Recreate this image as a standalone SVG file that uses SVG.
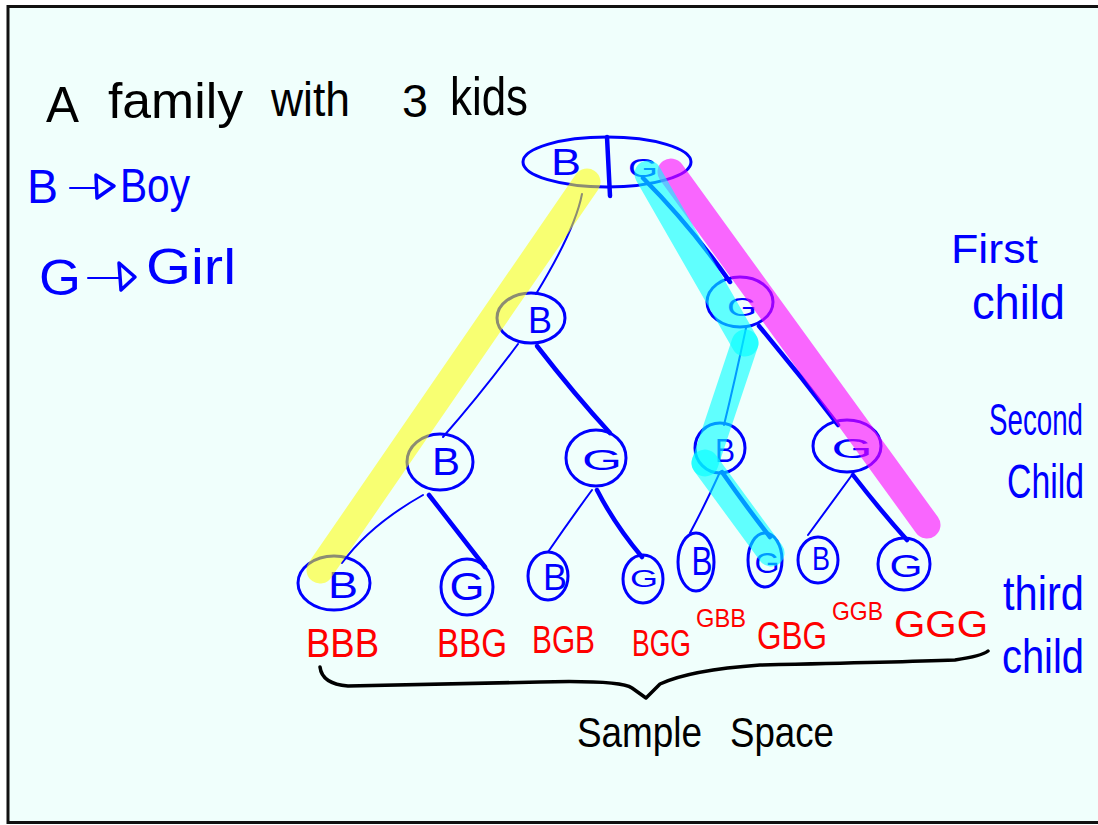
<svg xmlns="http://www.w3.org/2000/svg" width="1098" height="825" viewBox="0 0 1098 825">
  <style>
    .sheet { fill: #f0fffc; stroke: #111; stroke-width: 3; }
    .ink { font-family: "Liberation Sans", Arial, sans-serif; }
    .black { fill: #000; }
    .blue { fill: #0000ff; }
    .red { fill: #ff0000; }
    .ring { fill: none; stroke: #0000ff; stroke-width: 3; }
    .thin { fill: none; stroke: #0000ff; stroke-width: 2; stroke-linecap: round; }
    .thick { fill: none; stroke: #0000ff; stroke-width: 4.5; stroke-linecap: round; }
    .brace { fill: none; stroke: #000; stroke-width: 3.5; stroke-linecap: round; stroke-linejoin: round; }
    .hl { fill: none; stroke-width: 27; stroke-linecap: round; stroke-linejoin: round; }
    .yellow { stroke: #ffff00; opacity: 0.55; }
    .cyan { stroke: #00ffff; opacity: 0.6; }
    .magenta { stroke: #ff00ff; opacity: 0.6; }
  </style>

  <!-- page -->
  <rect x="0" y="0" width="1098" height="825" fill="#ffffff"/>
  <rect class="sheet" x="8" y="6.5" width="1200" height="816"/>

  <!-- heading -->
  <g id="title" class="ink black">
    <text x="46" y="122" font-size="50" textLength="33" lengthAdjust="spacingAndGlyphs">A</text>
    <text x="108" y="118" font-size="50" textLength="135" lengthAdjust="spacingAndGlyphs">family</text>
    <text x="271" y="116" font-size="48" textLength="79" lengthAdjust="spacingAndGlyphs">with</text>
    <text x="402" y="117" font-size="46" textLength="26" lengthAdjust="spacingAndGlyphs">3</text>
    <text x="450" y="115" font-size="54" textLength="78" lengthAdjust="spacingAndGlyphs">kids</text>
  </g>

  <!-- legend -->
  <g id="legend" class="ink blue">
    <text x="27" y="203" font-size="48" textLength="31" lengthAdjust="spacingAndGlyphs">B</text>
    <path class="thin" d="M70 188 H95" stroke-width="3"/>
    <path d="M96 175 L114 186 L97 198 Z" fill="none" stroke="#0000ff" stroke-width="3.5" stroke-linejoin="round"/>
    <text x="120" y="202" font-size="48" textLength="70" lengthAdjust="spacingAndGlyphs">Boy</text>
    <text x="39" y="295" font-size="50" textLength="42" lengthAdjust="spacingAndGlyphs">G</text>
    <path class="thin" d="M88 278 H119" stroke-width="3"/>
    <path d="M119 263 L135 277 L121 290 Z" fill="none" stroke="#0000ff" stroke-width="3.5" stroke-linejoin="round"/>
    <text x="146" y="284" font-size="50" textLength="90" lengthAdjust="spacingAndGlyphs">Girl</text>
  </g>

  <!-- level captions -->
  <g id="captions" class="ink blue">
    <text x="951" y="263" font-size="40" textLength="87" lengthAdjust="spacingAndGlyphs">First</text>
    <text x="972" y="319" font-size="48" textLength="93" lengthAdjust="spacingAndGlyphs">child</text>
    <text x="989" y="435" font-size="44" textLength="94" lengthAdjust="spacingAndGlyphs">Second</text>
    <text x="1007" y="498" font-size="48" textLength="77" lengthAdjust="spacingAndGlyphs">Child</text>
    <text x="1003" y="610" font-size="48" textLength="81" lengthAdjust="spacingAndGlyphs">third</text>
    <text x="1002" y="673" font-size="48" textLength="82" lengthAdjust="spacingAndGlyphs">child</text>
  </g>

  <!-- branches -->
  <g id="connectors">
    <path class="thin" d="M582 194 Q575 230 536 294"/>
    <path class="thick" d="M643 178 Q690 225 730 282"/>
    <path class="thin" d="M518 344 Q480 395 443 437"/>
    <path class="thick" d="M537 346 Q575 395 610 433"/>
    <path class="thin" d="M746 328 Q735 380 724 425"/>
    <path class="thick" d="M759 326 Q800 375 838 425"/>
    <path class="thin" d="M423 495 Q370 525 342 563"/>
    <path class="thick" d="M429 495 Q460 535 485 567"/>
    <path class="thin" d="M592 490 Q570 520 548 552"/>
    <path class="thick" d="M597 490 Q615 525 642 557"/>
    <path class="thin" d="M720 472 Q705 505 690 533"/>
    <path class="thick" d="M722 472 Q745 505 770 537"/>
    <path class="thin" d="M852 475 Q830 505 808 535"/>
    <path class="thick" d="M853 475 Q880 510 907 540"/>
  </g>

  <!-- tree nodes -->
  <g id="root" class="ink blue">
    <ellipse class="ring" cx="607" cy="162" rx="84" ry="25"/>
    <path class="thick" d="M607 137 L610 196" stroke-width="3.5"/>
    <text x="566" y="175" font-size="37" text-anchor="middle" textLength="30" lengthAdjust="spacingAndGlyphs">B</text>
    <text x="643" y="177" font-size="26" text-anchor="middle" textLength="30" lengthAdjust="spacingAndGlyphs">G</text>
  </g>
  <g id="n-B" class="ink blue">
    <ellipse class="ring" cx="531" cy="318" rx="34" ry="25"/>
    <text x="540" y="333" font-size="36" text-anchor="middle" textLength="24" lengthAdjust="spacingAndGlyphs">B</text>
  </g>
  <g id="n-G" class="ink blue">
    <ellipse class="ring" cx="740" cy="302" rx="33" ry="25"/>
    <text x="742" y="316" font-size="26" text-anchor="middle" textLength="30" lengthAdjust="spacingAndGlyphs">G</text>
  </g>
  <g id="n-BB" class="ink blue">
    <ellipse class="ring" cx="440" cy="462" rx="33" ry="28"/>
    <text x="446" y="475" font-size="38" text-anchor="middle" textLength="28" lengthAdjust="spacingAndGlyphs">B</text>
  </g>
  <g id="n-BG" class="ink blue">
    <ellipse class="ring" cx="596" cy="458" rx="30" ry="28"/>
    <text x="602" y="470" font-size="30" text-anchor="middle" textLength="40" lengthAdjust="spacingAndGlyphs">G</text>
  </g>
  <g id="n-GB" class="ink blue">
    <ellipse class="ring" cx="720" cy="448" rx="25" ry="25"/>
    <text x="725" y="462" font-size="34" text-anchor="middle" textLength="20" lengthAdjust="spacingAndGlyphs">B</text>
  </g>
  <g id="n-GG" class="ink blue">
    <ellipse class="ring" cx="847" cy="446" rx="34" ry="26"/>
    <text x="852" y="458" font-size="28" text-anchor="middle" textLength="41" lengthAdjust="spacingAndGlyphs">G</text>
  </g>
  <g id="n-BBB" class="ink blue">
    <ellipse class="ring" cx="334" cy="583" rx="36" ry="27"/>
    <text x="343" y="598" font-size="36" text-anchor="middle" textLength="30" lengthAdjust="spacingAndGlyphs">B</text>
  </g>
  <g id="n-BBG" class="ink blue">
    <ellipse class="ring" cx="467" cy="587" rx="26" ry="28"/>
    <text x="467" y="600" font-size="38" text-anchor="middle" textLength="35" lengthAdjust="spacingAndGlyphs">G</text>
  </g>
  <g id="n-BGB" class="ink blue">
    <ellipse class="ring" cx="548" cy="576" rx="20" ry="24"/>
    <text x="555" y="590" font-size="36" text-anchor="middle" textLength="24" lengthAdjust="spacingAndGlyphs">B</text>
  </g>
  <g id="n-BGG" class="ink blue">
    <ellipse class="ring" cx="643" cy="579" rx="20" ry="24"/>
    <text x="644" y="587" font-size="24" text-anchor="middle" textLength="28" lengthAdjust="spacingAndGlyphs">G</text>
  </g>
  <g id="n-GBB" class="ink blue">
    <ellipse class="ring" cx="696" cy="562" rx="18" ry="29"/>
    <text x="702" y="575" font-size="40" text-anchor="middle" textLength="21" lengthAdjust="spacingAndGlyphs">B</text>
  </g>
  <g id="n-GBG" class="ink blue">
    <ellipse class="ring" cx="765" cy="560" rx="17" ry="27"/>
    <text x="767" y="573" font-size="30" text-anchor="middle" textLength="25" lengthAdjust="spacingAndGlyphs">G</text>
  </g>
  <g id="n-GGB" class="ink blue">
    <ellipse class="ring" cx="818" cy="560" rx="20" ry="23"/>
    <text x="821" y="570" font-size="34" text-anchor="middle" textLength="18" lengthAdjust="spacingAndGlyphs">B</text>
  </g>
  <g id="n-GGG" class="ink blue">
    <ellipse class="ring" cx="904" cy="564" rx="26" ry="26"/>
    <text x="906" y="577" font-size="32" text-anchor="middle" textLength="33" lengthAdjust="spacingAndGlyphs">G</text>
  </g>

  <!-- highlighter marks over the chosen paths -->
  <g id="highlights">
    <path class="hl yellow" d="M587 182 L320 570"/>
    <path class="hl magenta" d="M671 172 L927 525"/>
    <path class="hl cyan" d="M648 174 L745 343" stroke-width="25"/>
    <path class="hl cyan" d="M745 343 L705 463" stroke-width="25"/>
    <path class="hl cyan" d="M705 463 L771 553" stroke-width="25"/>
  </g>

  <!-- outcomes -->
  <g id="outcomes" class="ink red">
    <text x="306" y="657" font-size="40" textLength="73" lengthAdjust="spacingAndGlyphs">BBB</text>
    <text x="437" y="657" font-size="40" textLength="70" lengthAdjust="spacingAndGlyphs">BBG</text>
    <text x="532" y="653" font-size="39" textLength="63" lengthAdjust="spacingAndGlyphs">BGB</text>
    <text x="632" y="656" font-size="37" textLength="59" lengthAdjust="spacingAndGlyphs">BGG</text>
    <text x="696" y="627" font-size="26" textLength="50" lengthAdjust="spacingAndGlyphs">GBB</text>
    <text x="757" y="649" font-size="39" textLength="70" lengthAdjust="spacingAndGlyphs">GBG</text>
    <text x="832" y="620" font-size="26" textLength="51" lengthAdjust="spacingAndGlyphs">GGB</text>
    <text x="894" y="637" font-size="37" textLength="94" lengthAdjust="spacingAndGlyphs">GGG</text>
  </g>

  <!-- brace and caption -->
  <g id="sample-space" class="ink black">
    <path class="brace" d="M320 667 Q322 684 348 686 Q450 684 540 682 Q620 680 632 688 L646 698 L660 684 Q690 670 760 665 Q900 662 955 660 Q982 656 988 651"/>
    <text x="577" y="747" font-size="42" textLength="125" lengthAdjust="spacingAndGlyphs">Sample</text>
    <text x="730" y="747" font-size="42" textLength="104" lengthAdjust="spacingAndGlyphs">Space</text>
  </g>
</svg>
